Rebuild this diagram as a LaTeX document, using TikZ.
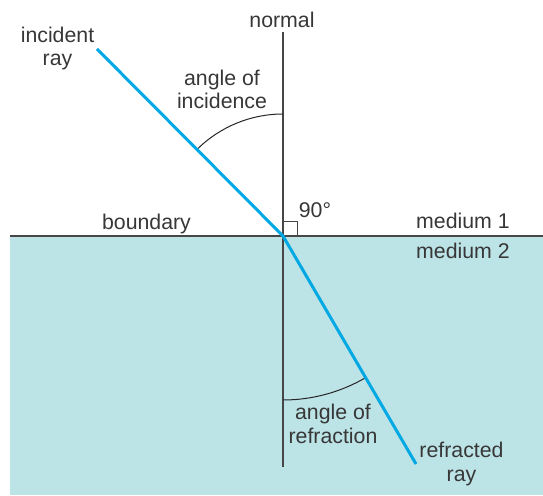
\documentclass[tikz,border=0pt]{standalone}
\usepackage{fontspec}
\setmainfont{Liberation Sans}
\definecolor{raybl}{RGB}{0,168,228}
\definecolor{medfill}{RGB}{188,227,230}
\definecolor{linegr}{RGB}{70,70,70}
\definecolor{txtgr}{RGB}{55,55,55}
\begin{document}
\begin{tikzpicture}[x=1pt,y=1pt,
  lbl/.style={text=txtgr,font=\fontsize{21.3}{23.5}\selectfont,inner sep=0pt,align=center,anchor=base},
  ray/.style={draw=raybl,line width=3pt},
  thin line/.style={draw=linegr,line width=1.3pt},
  arcline/.style={draw=black!85,line width=1pt}]
\useasboundingbox (0,0) rectangle (543,495);
\coordinate (O) at (283,259);
\coordinate (bl) at (10,259);
\coordinate (br) at (543,259);
\coordinate (ntop) at (283,463);
\coordinate (nbot) at (283,28);
\coordinate (inc) at (97,446);
\coordinate (refr) at (416,31);
% medium 2
\fill[medfill] (10,0) rectangle (543,259);
% boundary and normal
\draw[draw=linegr,line width=2.2pt] (bl) -- (br);
\draw[thin line] (ntop) -- (nbot);
% right angle
\draw[draw=linegr,line width=1pt] ([yshift=14.5pt]O) -| ([xshift=14.5pt]O);
% arcs
\draw[arcline] (283,381) arc[start angle=90,end angle=134.8,radius=122];
\draw[arcline] (283,95) arc[start angle=270,end angle=300.3,radius=164];
% rays
\draw[ray] (inc) -- (O) -- (refr);
% labels
\node[lbl] (tnormal) at (282,467) {normal};
\node[lbl] (tinc) at (57.5,429) {incident\\ray};
\node[lbl] (tai) at (222,386) {angle of\\incidence};
\node[lbl] (tbound) at (146.5,265) {boundary};
\node[lbl] (t90) at (315,277) {90°};
\node[lbl] (tm1) at (463,266) {medium 1};
\node[lbl] (tm2) at (463,236) {medium 2};
\node[lbl] (tar) at (333,52) {angle of\\refraction};
\node[lbl] (trr) at (461.5,14) {refracted\\ray};
\end{tikzpicture}
\end{document}
